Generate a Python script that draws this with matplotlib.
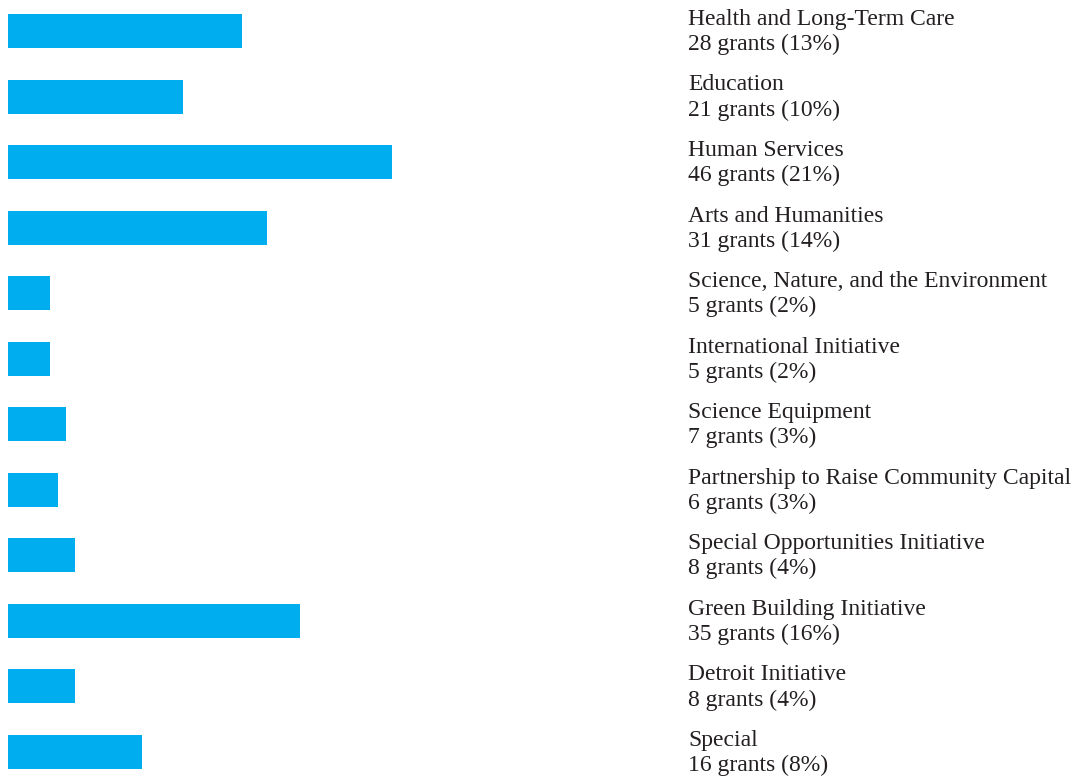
import matplotlib
matplotlib.use("Agg")
import matplotlib.pyplot as plt

categories = [
    "Health and Long-Term Care",
    "Education",
    "Human Services",
    "Arts and Humanities",
    "Science, Nature, and the Environment",
    "International Initiative",
    "Science Equipment",
    "Partnership to Raise Community Capital",
    "Special Opportunities Initiative",
    "Green Building Initiative",
    "Detroit Initiative",
    "Special",
]
grants = [28, 21, 46, 31, 5, 5, 7, 6, 8, 35, 8, 16]
percents = [13, 10, 21, 14, 2, 2, 3, 3, 4, 16, 4, 8]

W, H, DPI = 1079, 779, 100
fig = plt.figure(figsize=(W / DPI, H / DPI), dpi=DPI)
fig.patch.set_facecolor("white")

ax_left, ax_right = 8, 680
ax = fig.add_axes([ax_left / W, 0, (ax_right - ax_left) / W, 1])
px_per_unit = 8.35
ax.set_xlim(0, (ax_right - ax_left) / px_per_unit)

pitch = (752 - 31) / (len(categories) - 1)
ax.set_ylim(len(categories) - 1 + (H - 752) / pitch, -31 / pitch)

ys = list(range(len(categories)))
ax.barh(ys, grants, height=34 / pitch, color="#00AEEF", edgecolor="none")

for y, cat, g, p in zip(ys, categories, grants, percents):
    ax.annotate(f"{cat}\n{g} grants ({p}%)", xy=(1, y),
                xycoords=("axes fraction", "data"),
                xytext=(8, -1), textcoords="offset pixels",
                ha="left", va="center", fontsize=17,
                family="Liberation Serif", color="#231f20",
                linespacing=1.25, annotation_clip=False)

ax.axis("off")
fig.savefig("out.png", dpi=DPI, facecolor="white")
